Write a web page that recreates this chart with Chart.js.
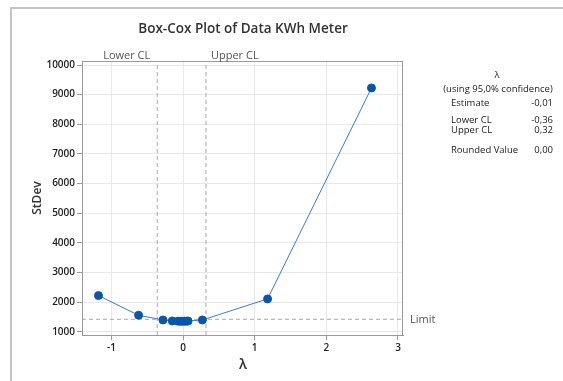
<!DOCTYPE html>
<html><head><meta charset="utf-8">
<script src="https://cdn.jsdelivr.net/npm/chart.js@4/dist/chart.umd.min.js"></script>
<style>html,body{margin:0;padding:0;background:#fff}#wrap{width:563px;height:381px;position:relative}</style>
</head><body><div id="wrap"><canvas id="c" width="563" height="381"></canvas></div>
<script>
const lambdaValues = [-1.18, -0.62, -0.28, -0.15, -0.07, -0.04, -0.01, 0.02, 0.05, 0.07, 0.27, 1.18, 2.63];
const stdevValues = [2220, 1556, 1397, 1363, 1358, 1355, 1354, 1355, 1357, 1362, 1397, 2108, 9227];
const xTicks = [-1, 0, 1, 2, 3];
const yTicks = [1000, 2000, 3000, 4000, 5000, 6000, 7000, 8000, 9000, 10000];
const lowerCL = -0.36;
const upperCL = 0.32;
const limitValue = 1420;
const statLabels = ["Estimate", "Lower CL", "Upper CL", "Rounded Value"];
const statValues = ["-0,01", "-0,36", "0,32", "0,00"];

const X_MIN = -1.41, X_MAX = 3.07, Y_MIN = 890, Y_MAX = 10135;
const FONT = "'Open Sans', 'Noto Sans', sans-serif";

const decor = {
  id: 'decor',
  beforeDraw(chart) {
    const ctx = chart.ctx;
    ctx.save();
    ctx.fillStyle = '#fff';
    ctx.fillRect(0, 0, chart.width, chart.height);
    ctx.strokeStyle = '#c4c4c4';
    ctx.lineWidth = 2;
    ctx.beginPath();
    ctx.moveTo(11, 381); ctx.lineTo(11, 8); ctx.lineTo(563, 8);
    ctx.stroke();
    ctx.restore();
  },
  afterDraw(chart) {
    const ctx = chart.ctx, a = chart.chartArea, xs = chart.scales.x, ys = chart.scales.y;
    ctx.save();
    ctx.strokeStyle = '#9a9a9a';
    ctx.lineWidth = 1;
    ctx.strokeRect(a.left + 0.5, a.top + 0.5, a.right - a.left - 1, a.bottom - a.top);
    ctx.fillStyle = '#333';
    ctx.font = "600 13.5px " + FONT;
    ctx.textAlign = 'center'; ctx.textBaseline = 'middle';
    ctx.fillText('Box-Cox Plot of Data KWh Meter', 243, 29);
    ctx.font = "11px " + FONT;
    ctx.fillStyle = '#555';
    ctx.textAlign = 'right';
    ctx.fillText('Lower CL', xs.getPixelForValue(lowerCL) - 7, 56);
    ctx.textAlign = 'left';
    ctx.fillText('Upper CL', xs.getPixelForValue(upperCL) + 5, 56);
    ctx.fillText('Limit', a.right + 7, ys.getPixelForValue(limitValue) + 1);
    ctx.fillStyle = '#333';
    ctx.font = "600 12px " + FONT;
    ctx.save();
    ctx.translate(38, (a.top + a.bottom) / 2);
    ctx.rotate(-Math.PI / 2);
    ctx.textAlign = 'center';
    ctx.fillText('StDev', 0, 0);
    ctx.restore();
    ctx.textAlign = 'center';
    ctx.font = "600 14px " + FONT;
    ctx.fillText('λ', 243, 365);
    ctx.font = "9.5px " + FONT;
    ctx.fillStyle = '#222';
    ctx.fillText('λ', 497, 75);
    ctx.fillText('(using 95,0% confidence)', 498, 89);
    const ys2 = [103, 120, 130, 150];
    for (let i = 0; i < statLabels.length; i++) {
      ctx.textAlign = 'left';
      ctx.fillText(statLabels[i], 451, ys2[i]);
      ctx.textAlign = 'right';
      ctx.fillText(statValues[i], 553, ys2[i]);
    }
    ctx.restore();
  }
};

new Chart(document.getElementById('c'), {
  type: 'scatter',
  data: {
    datasets: [
      {
        data: lambdaValues.map((x, i) => ({ x, y: stdevValues[i] })),
        showLine: true,
        borderColor: '#3d7cc9',
        borderWidth: 1,
        backgroundColor: '#0a56a8',
        pointBackgroundColor: '#0a56a8',
        pointBorderColor: '#0a56a8',
        pointRadius: 4,
        order: 0
      },
      {
        data: [{ x: lowerCL, y: Y_MIN }, { x: lowerCL, y: Y_MAX }],
        showLine: true, borderColor: '#a8a8a8', borderWidth: 1, borderDash: [4, 3], pointRadius: 0, order: 2
      },
      {
        data: [{ x: upperCL, y: Y_MIN }, { x: upperCL, y: Y_MAX }],
        showLine: true, borderColor: '#a8a8a8', borderWidth: 1, borderDash: [4, 3], pointRadius: 0, order: 2
      },
      {
        data: [{ x: X_MIN, y: limitValue }, { x: X_MAX, y: limitValue }],
        showLine: true, borderColor: '#a8a8a8', borderWidth: 1, borderDash: [4, 3], pointRadius: 0, order: 2
      }
    ]
  },
  options: {
    responsive: false,
    animation: false,
    events: [],
    layout: { padding: { left: 0, right: 160, top: 61, bottom: 0 } },
    plugins: { legend: { display: false }, tooltip: { enabled: false }, title: { display: false } },
    scales: {
      x: {
        type: 'linear', min: X_MIN, max: X_MAX,
        afterBuildTicks: s => { s.ticks = xTicks.map(v => ({ value: v })); },
        afterFit: s => { s.height = 46; },
        grid: { color: '#e8e8e8', tickColor: '#9a9a9a', tickLength: 5, drawOnChartArea: true },
        border: { color: '#9a9a9a' },
        ticks: { color: '#222', font: { family: FONT, size: 10, weight: '600' }, padding: 2, callback: v => String(v) }
      },
      y: {
        type: 'linear', min: Y_MIN, max: Y_MAX,
        afterBuildTicks: s => { s.ticks = yTicks.map(v => ({ value: v })); },
        afterFit: s => { s.width = 82; },
        grid: { color: '#e8e8e8', tickColor: '#9a9a9a', tickLength: 5 },
        border: { color: '#9a9a9a' },
        ticks: { color: '#222', font: { family: FONT, size: 10, weight: '600' }, padding: 2, callback: v => String(v) }
      }
    }
  },
  plugins: [decor]
});
</script></body></html>
